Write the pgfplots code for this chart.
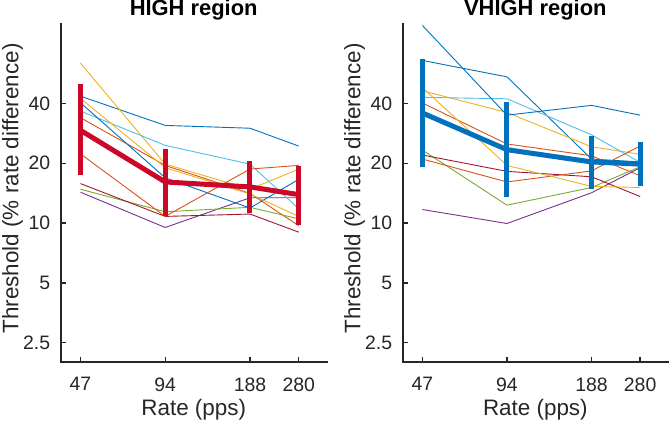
\documentclass[border=0pt]{standalone}
\usepackage{fontspec}
\setmainfont{Liberation Sans}
\usepackage{pgfplots}
\pgfplotsset{compat=1.18}
\definecolor{c1}{HTML}{0072BD}
\definecolor{c2}{HTML}{D95319}
\definecolor{c3}{HTML}{EDB120}
\definecolor{c4}{HTML}{7E2F8E}
\definecolor{c5}{HTML}{77AC30}
\definecolor{c6}{HTML}{4DBEEE}
\definecolor{c7}{HTML}{A2142F}
\definecolor{meanred}{RGB}{204,8,40}
\definecolor{meanblue}{RGB}{0,114,189}
\definecolor{axgray}{HTML}{262626}
\tikzset{indiv/.style={line width=0.9bp}, meanline/.style={line width=5bp}}
\begin{document}
\begin{tikzpicture}
\useasboundingbox (0,0) rectangle (669bp,423bp);
% ---------------- HIGH region ----------------
\begin{axis}[name=ax1, at={(60.7bp,61bp)}, anchor=south west,
    scale only axis, width=266bp, height=337.7bp,
    xmode=log, ymode=log,
    xmin=40, xmax=352, ymin=2, ymax=100,
    xtick={47,94,188,280}, xticklabels={47,94,188,280},
    ytick={2.5,5,10,20,40}, yticklabels={2.5,5,10,20,40},
    xtick pos=left, ytick pos=left,
    axis line style={draw=none},
    tick style={line width=1.4bp, color=axgray},
    tick align=inside, major tick length=5.5bp,
    tick label style={font=\fontsize{19.5}{23}\selectfont, text=axgray},
    xticklabel style={yshift=-12bp},
    yticklabel style={xshift=-7bp},
    label style={font=\fontsize{22.5}{26}\selectfont, text=axgray},
    xlabel style={at={(axis description cs:0.5,0)}, anchor=base, yshift=-53bp},
    ylabel style={at={(axis description cs:0,0.514)}, anchor=base, yshift=42.4bp},
    title style={at={(axis description cs:0.5,1)}, anchor=base, yshift=3bp, font=\fontsize{22}{26}\selectfont\bfseries},
    xlabel={Rate (pps)},
    ylabel={Threshold (\% rate difference)},
    title={HIGH region},
    clip=false]
\addplot[c1, indiv] coordinates {(47,43.5) (94,31) (188,30) (280,24.4)};
\addplot[c2, indiv] coordinates {(47,33.9) (94,19.5) (188,14.1) (280,9.7)};
\addplot[c3, indiv] coordinates {(47,63.8) (94,19.8) (188,14.8) (280,18.7)};
\addplot[c4, indiv] coordinates {(47,14.3) (94,9.5) (188,13.4) (280,13.4)};
\addplot[c5, indiv] coordinates {(47,14.8) (94,11.4) (188,12.0) (280,10.5)};
\addplot[c6, indiv] coordinates {(47,36.6) (94,24.6) (188,19.8) (280,11.8)};
\addplot[c7, indiv] coordinates {(47,15.8) (94,10.8) (188,11.1) (280,9.0)};
\addplot[c1, indiv] coordinates {(47,40.3) (94,16.9) (188,11.9) (280,16.6)};
\addplot[c2, indiv] coordinates {(47,22.3) (94,10.8) (188,18.7) (280,19.5)};
\addplot[c3, indiv] coordinates {(47,42.4) (94,19.0) (188,14.0) (280,10.8)};
\addplot[meanred, meanline] coordinates {(47,29.3) (94,16.1) (188,15.2) (280,13.9)};
\addplot[meanred, meanline] coordinates {(47,17.4) (47,50.1)};
\addplot[meanred, meanline] coordinates {(94,10.85) (94,23.7)};
\addplot[meanred, meanline] coordinates {(188,11.3) (188,20.5)};
\addplot[meanred, meanline] coordinates {(280,9.75) (280,19.4)};
\end{axis}
% ---------------- VHIGH region ----------------
\begin{axis}[name=ax2, at={(402.7bp,61bp)}, anchor=south west,
    scale only axis, width=265.3bp, height=337.7bp,
    xmode=log, ymode=log,
    xmin=40, xmax=352, ymin=2, ymax=100,
    xtick={47,94,188,280}, xticklabels={47,94,188,280},
    ytick={2.5,5,10,20,40}, yticklabels={2.5,5,10,20,40},
    xtick pos=left, ytick pos=left,
    axis line style={draw=none},
    tick style={line width=1.4bp, color=axgray},
    tick align=inside, major tick length=5.5bp,
    tick label style={font=\fontsize{19.5}{23}\selectfont, text=axgray},
    xticklabel style={yshift=-12bp},
    yticklabel style={xshift=-7bp},
    label style={font=\fontsize{22.5}{26}\selectfont, text=axgray},
    xlabel style={at={(axis description cs:0.5,0)}, anchor=base, yshift=-53bp},
    ylabel style={at={(axis description cs:0,0.514)}, anchor=base, yshift=42.4bp},
    title style={at={(axis description cs:0.5,1)}, anchor=base, yshift=3bp, font=\fontsize{22}{26}\selectfont\bfseries},
    xlabel={Rate (pps)},
    ylabel={Threshold (\% rate difference)},
    title={VHIGH region},
    clip=false]
\addplot[c1, indiv] coordinates {(47,65.8) (94,54.4) (188,21) (280,20.3)};
\addplot[c2, indiv] coordinates {(47,40.2) (94,25) (188,21.8) (280,17.3)};
\addplot[c3, indiv] coordinates {(47,46.3) (94,36) (188,24.2) (280,22.2)};
\addplot[c4, indiv] coordinates {(47,11.7) (94,9.95) (188,14.2) (280,19)};
\addplot[c5, indiv] coordinates {(47,23.3) (94,12.3) (188,15.1) (280,19.2)};
\addplot[c6, indiv] coordinates {(47,42.9) (94,42.2) (188,27.8) (280,20.2)};
\addplot[c7, indiv] coordinates {(47,22) (94,18.2) (188,17.1) (280,13.6)};
\addplot[c1, indiv] coordinates {(47,98.7) (94,34.9) (188,39.1) (280,34.9)};
\addplot[c2, indiv] coordinates {(47,21) (94,16.1) (188,18.3) (280,24.4)};
\addplot[c3, indiv] coordinates {(47,48) (94,19.5) (188,15.3) (280,15.1)};
\addplot[meanblue, meanline] coordinates {(47,35.8) (94,23.4) (188,20.3) (280,19.8)};
\addplot[meanblue, meanline] coordinates {(47,19.2) (47,66.9)};
\addplot[meanblue, meanline] coordinates {(94,13.5) (94,40.8)};
\addplot[meanblue, meanline] coordinates {(188,14.9) (188,27.5)};
\addplot[meanblue, meanline] coordinates {(280,15.4) (280,25.5)};
\end{axis}
\draw[axgray, line width=1.8bp, line cap=rect] (ax1.north west) -- (ax1.south west);
\draw[axgray, line width=2bp, line cap=rect] (ax1.south west) -- (ax1.south east);
\draw[axgray, line width=1.8bp, line cap=rect] (ax2.north west) -- (ax2.south west);
\draw[axgray, line width=2bp, line cap=rect] (ax2.south west) -- (ax2.south east);
\end{tikzpicture}
\end{document}
